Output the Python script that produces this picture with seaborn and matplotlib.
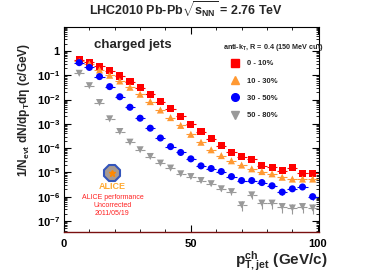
import numpy as np
import pandas as pd
import matplotlib
matplotlib.use("Agg")
import matplotlib.pyplot as plt
from matplotlib.ticker import LogLocator, FixedLocator, MultipleLocator, NullFormatter, FuncFormatter
from matplotlib.lines import Line2D
import seaborn as sns

# ---------------- data ----------------
pt = [6, 10, 14, 18, 22, 26, 30, 34, 38, 42, 46, 50,
      54, 58, 62, 66, 70, 74, 78, 82, 86, 90, 94, 98]

c0_10 = [0.43, 0.34, 0.23, 0.155, 0.093, 0.055, 0.031, 0.0166, 0.0082, 0.0041, 0.0020, 9.6e-4,
         4.8e-4, 2.4e-4, 1.23e-4, 6.8e-5, 4.4e-5, 3.5e-5, 1.85e-5, 1.6e-5, 1.18e-5, 1.54e-5, 9.3e-6, 9.3e-6]
c10_30 = [0.37, 0.29, 0.165, 0.10, 0.058, 0.032, 0.0165, 0.0082, 0.0037, 0.0018, 8.6e-4, 3.7e-4,
          1.74e-4, 8.5e-5, 4.9e-5, 3.0e-5, 2.0e-5, 1.4e-5, 1.08e-5, 8.7e-6, 6.3e-6, 5.3e-6, 5.3e-6, 5.3e-6]
c30_50 = [0.33, 0.21, 0.088, 0.034, 0.013, 0.0048, 0.0017, 6.6e-4, 2.6e-4, 1.15e-4, 6.6e-5, 3.6e-5,
          1.85e-5, 1.44e-5, 1.08e-5, 6.7e-6, 4.6e-6, 4.6e-6, 3.8e-6, 2.8e-6, 1.54e-6, 2.1e-6, 2.5e-6, 1.0e-6]
c50_80 = [0.12, 0.037, 0.0075, 0.0016, 4.8e-4, 1.75e-4, 8.5e-5, 4.5e-5, 2.4e-5, 1.5e-5, 8.7e-6, 6.7e-6,
          4.6e-6, 3.4e-6, 2.1e-6, 1.6e-6, 4.6e-7, 1.18e-6, 5.4e-7, 5.4e-7, 3.9e-7, 3.4e-7, 3.9e-7, 3.4e-7]

# relative statistical errors
rel_err_0_10 = [0.02] * 12 + [0.04, 0.05, 0.06, 0.08, 0.1, 0.1, 0.12, 0.14, 0.15, 0.14, 0.18, 0.18]
rel_err_10_30 = [0.02] * 12 + [0.04, 0.05, 0.06, 0.08, 0.1, 0.1, 0.12, 0.14, 0.15, 0.16, 0.18, 0.18]
rel_err_30_50 = [0.02] * 12 + [0.06, 0.08, 0.1, 0.12, 0.14, 0.14, 0.16, 0.18, 0.22, 0.2, 0.2, 0.25]
rel_err_50_80 = [0.03] * 10 + [0.08, 0.1, 0.12, 0.15, 0.2, 0.25, 0.45, 0.35, 0.4, 0.4, 0.45, 0.45, 0.45, 0.45]

bin_half_width = 2.0

labels = ["0 - 10%", "10 - 30%", "30 - 50%", "50 - 80%"]
series = [c0_10, c10_30, c30_50, c50_80]
errors = [rel_err_0_10, rel_err_10_30, rel_err_30_50, rel_err_50_80]
colors = ["#ff0000", "#ff9933", "#0000ff", "#999999"]
markers = ["s", "^", "o", "v"]
xerr_styles = ["-", "--", "-", "--"]

df = pd.DataFrame({
    "pt": np.tile(pt, 4),
    "y": np.concatenate(series),
    "cent": np.repeat(labels, len(pt)),
})

# ---------------- style ----------------
sns.set_theme(style="ticks")
plt.rcParams["font.family"] = ["Liberation Sans", "DejaVu Sans"]
plt.rcParams["font.weight"] = "bold"
plt.rcParams["mathtext.fontset"] = "custom"
plt.rcParams["mathtext.rm"] = "Liberation Sans:bold"
plt.rcParams["mathtext.it"] = "Liberation Sans:bold"
plt.rcParams["mathtext.bf"] = "Liberation Sans:bold"
plt.rcParams["mathtext.default"] = "bf"

W, H = 382, 274
fig = plt.figure(figsize=(3.82, 2.74), dpi=100)
ax = fig.add_axes([64 / W, 1 - 232 / H, (319 - 64) / W, (232 - 27) / H])

# error bars
for ys, errs, col, ls in zip(series, errors, colors, xerr_styles):
    ys = np.array(ys)
    e = ys * np.array(errs)
    ax.errorbar(pt, ys, yerr=[np.minimum(e, ys * 0.9), e], fmt="none", ecolor=col,
                elinewidth=0.8, capsize=0, zorder=2)
    eb = ax.errorbar(pt, ys, xerr=bin_half_width, fmt="none", ecolor=col,
                     elinewidth=0.8, capsize=0, zorder=2)
    for lc in eb.lines[2]:
        lc.set_linestyle(ls)

sns.scatterplot(data=df, x="pt", y="y", hue="cent", style="cent",
                hue_order=labels, style_order=labels,
                palette=dict(zip(labels, colors)), markers=dict(zip(labels, markers)),
                s=26, linewidth=0, ax=ax, legend=False, zorder=3)

ax.set_yscale("log")
ax.set_xlim(0, 100.5)
ax.set_ylim(3.5e-8, 9.7)

# ticks
ax.xaxis.set_major_locator(FixedLocator([0, 50, 100]))
ax.xaxis.set_minor_locator(MultipleLocator(10))
ax.yaxis.set_major_locator(FixedLocator([1e-7, 1e-6, 1e-5, 1e-4, 1e-3, 1e-2, 1e-1, 1]))
ax.yaxis.set_minor_locator(LogLocator(base=10, subs=np.arange(2, 10), numticks=20))
ax.yaxis.set_minor_formatter(NullFormatter())


def yfmt(v, _):
    e = int(round(np.log10(v)))
    if e == 0:
        return "1"
    return r"10$^{%d}$" % e


ax.yaxis.set_major_formatter(FuncFormatter(yfmt))
ax.tick_params(which="both", direction="in", top=True, right=True, labelsize=8, colors="black")
ax.tick_params(which="major", length=5, width=0.8)
ax.tick_params(which="minor", length=2.5, width=0.6)
ax.tick_params(axis="x", pad=5)
ax.tick_params(axis="y", pad=3)
for lab in ax.get_xticklabels() + ax.get_yticklabels():
    lab.set_fontweight("bold")
for sp in ax.spines.values():
    sp.set_linewidth(0.8)
    sp.set_color("black")
ax.spines["bottom"].set_color("#7a1010")
ax.spines["bottom"].set_linewidth(1.0)

ax.set_xlabel("")
ax.set_ylabel("")

# axis titles
fig.text(24 / W, 1 - 110 / H, r"1/N$_{evt}$ dN/dp$_{T}$d$\eta$ (c/GeV)", rotation=90,
         ha="center", va="center", fontsize=8.6, fontweight="bold")
fig.text(328 / W, 1 - 261 / H, r"p$^{ch}_{T,jet}$ (GeV/c)", ha="right", va="center",
         fontsize=11, fontweight="bold")

# title
fig.text(186 / W, 1 - 9.5 / H, r"LHC2010 Pb-Pb$\sqrt{s_{NN}}$ = 2.76 TeV", ha="center", va="center",
         fontsize=9, fontweight="bold")

# charged jets label
ax.text(0.27, 0.912, "charged jets", transform=ax.transAxes, ha="center", va="center",
        fontsize=9.5, fontweight="bold")

# legend
fig.text(273 / W, 1 - 47 / H, r"anti-k$_{T}$, R = 0.4 (150 MeV cut)", ha="center", va="center",
         fontsize=5.2, fontweight="bold")
handles = [Line2D([], [], marker=m, color=c, linestyle="none", markersize=5.5)
           for m, c in zip(markers, colors)]
leg = ax.legend(handles, labels, loc="upper left", bbox_to_anchor=(229 / W, 1 - 60 / H),
                bbox_transform=fig.transFigure, frameon=False,
                prop={"size": 5.5, "weight": "bold"}, handlelength=1.5,
                labelspacing=1.3, handletextpad=0.8, borderaxespad=0, borderpad=0)

# ALICE logo and performance note
ax.plot([0.19], [0.29], transform=ax.transAxes, marker="8", markersize=13,
        markerfacecolor="#a89a90", markeredgecolor="#3355bb", markeredgewidth=1.5, zorder=4)
ax.plot([0.19], [0.29], transform=ax.transAxes, marker="*", markersize=5,
        color="#ff8800", zorder=5)
ax.text(0.19, 0.224, "ALICE", transform=ax.transAxes, ha="center", va="center",
        fontsize=6.5, fontweight="bold", color="#ffaa33")
ax.text(0.19, 0.17, "ALICE performance", transform=ax.transAxes, ha="center", va="center",
        fontsize=5, fontweight="normal", color="#ff2020")
ax.text(0.19, 0.13, "Uncorrected", transform=ax.transAxes, ha="center", va="center",
        fontsize=5, fontweight="normal", color="#ff2020")
ax.text(0.19, 0.092, "2011/05/19", transform=ax.transAxes, ha="center", va="center",
        fontsize=5, fontweight="normal", color="#ff2020")

fig.savefig("out.png", dpi=100)
